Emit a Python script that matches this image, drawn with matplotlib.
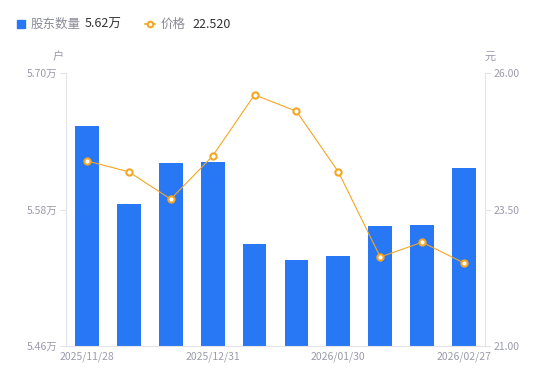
import matplotlib
matplotlib.use('Agg')
import matplotlib.pyplot as plt
from matplotlib.lines import Line2D
from matplotlib.patches import Rectangle

plt.rcParams['font.family'] = ['Noto Sans CJK SC', 'DejaVu Sans']

dates = ['2025/11/28', '2025/12/10', '2025/12/19', '2025/12/31', '2026/01/09',
         '2026/01/20', '2026/01/30', '2026/02/06', '2026/02/13', '2026/02/27']
holders = [5.6534, 5.5848, 5.6209, 5.6218, 5.5497, 5.5356, 5.5391, 5.5655, 5.5664, 5.6165]
price = [24.39, 24.19, 23.69, 24.48, 25.60, 25.30, 24.19, 22.63, 22.90, 22.52]

blue = '#2878f5'
orange = '#f5a623'
gray = '#9b9bab'
axc = '#e3e3e8'

fig = plt.figure(figsize=(5.5, 3.81), dpi=100)
ax = fig.add_axes([66/550, 35/381, 419/550, 273/381])
ax2 = ax.twinx()

x = list(range(len(dates)))
ax.bar(x, holders, width=0.57, color=blue, zorder=2)
ax.set_ylim(5.46, 5.70)
ax.set_xlim(-0.5, len(dates) - 0.5)
ax.set_yticks([5.46, 5.58, 5.70])
ax.set_yticklabels(['5.46万', '5.58万', '5.70万'])
ax.set_xticks([0, 3, 6, 9])
ax.set_xticklabels([dates[i] for i in [0, 3, 6, 9]])

ax2.plot(x, price, color=orange, lw=0.8, marker='o', ms=4.5, mfc='white',
         mec=orange, mew=1.5, zorder=3)
ax2.set_ylim(21, 26)
ax2.set_yticks([21, 23.5, 26])
ax2.set_yticklabels(['21.00', '23.50', '26.00'])

for a in (ax, ax2):
    for s in a.spines.values():
        s.set_visible(False)
    a.tick_params(colors=gray, labelsize=7.5, length=4, width=0.8, color=axc, pad=2)
ax.spines['left'].set_visible(True)
ax.spines['bottom'].set_visible(True)
ax.spines['left'].set_color(axc)
ax.spines['bottom'].set_color(axc)
ax2.spines['right'].set_visible(True)
ax2.spines['right'].set_color(axc)
ax.tick_params(axis='x', length=0, pad=4)

fig.text(58/550, 1 - 57/381, '户', color=gray, fontsize=8, ha='center', va='center')
fig.text(490/550, 1 - 57/381, '元', color=gray, fontsize=8, ha='center', va='center')

# legend
fig.patches.append(Rectangle((17/550, 1 - 28/381), 8/550, 8/381, transform=fig.transFigure,
                             color=blue, figure=fig))
fig.text(31/550, 1 - 24/381, '股东数量', color='#8a8a96', fontsize=9, va='center')
fig.text(85/550, 1 - 24/381, '5.62万', color='#333333', fontsize=9, va='center')
fig.lines.append(Line2D([145/550, 150/550, 155/550], [1 - 24/381] * 3, transform=fig.transFigure,
                        color=orange, lw=1.2, marker='o', ms=4, mfc='white', mec=orange, mew=1.5,
                        markevery=[1]))
fig.text(161/550, 1 - 24/381, '价格', color='#8a8a96', fontsize=9, va='center')
fig.text(192/550, 1 - 24/381, '22.520', color='#333333', fontsize=9, va='center')

fig.savefig('out.png', dpi=100)
